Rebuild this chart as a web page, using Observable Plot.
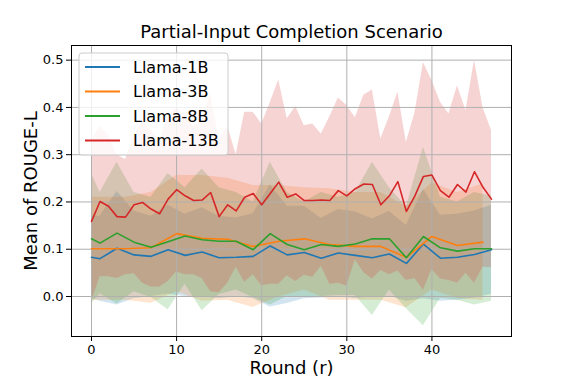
<!DOCTYPE html>
<html><head><meta charset="utf-8">
<script src="https://cdn.jsdelivr.net/npm/d3@7"></script>
<script src="https://cdn.jsdelivr.net/npm/@observablehq/plot@0.6"></script>
<style>body{margin:0;background:#fff}</style>
</head><body><div id="chart"></div>
<script>
const chartTitle = "Partial-Input Completion Scenario";
const xLabel = "Round (r)";
const yLabel = "Mean of ROUGE-L";
const seriesNames = ["Llama-1B", "Llama-3B", "Llama-8B", "Llama-13B"];
const seriesColors = ["#1f77b4", "#ff7f0e", "#2ca02c", "#d62728"];
const xTicks = [0, 10, 20, 30, 40];
const yTicks = [0, 0.1, 0.2, 0.3, 0.4, 0.5];

// Llama-1B
const rounds1B = [0,1,3,5,7,9,11,13,15,17,19,21,23,25,27,29,31,33,35,37,39,41,43,45,47];
const mean1B = [0.083,0.080,0.102,0.088,0.085,0.099,0.087,0.094,0.082,0.083,0.085,0.107,0.088,0.093,0.081,0.092,0.087,0.082,0.090,0.070,0.111,0.081,0.083,0.089,0.099];
const lo1B = [-0.005,-0.010,-0.018,-0.005,0.000,0.005,0.000,0.000,-0.005,0.000,-0.005,-0.022,-0.015,-0.005,-0.003,0.000,-0.005,0.000,0.000,-0.010,-0.005,-0.010,-0.008,-0.003,0.005];
const hi1B = [0.171,0.170,0.222,0.181,0.170,0.193,0.174,0.188,0.169,0.166,0.175,0.236,0.191,0.191,0.165,0.184,0.179,0.164,0.180,0.150,0.227,0.172,0.174,0.181,0.193];

// Llama-3B
const rounds3B = [0,1,4,7,10,13,16,19,22,25,28,31,34,37,40,43,46];
const mean3B = [0.101,0.101,0.101,0.103,0.133,0.123,0.121,0.106,0.117,0.122,0.110,0.106,0.106,0.083,0.127,0.108,0.115];
const lo3B = [-0.008,-0.008,-0.008,-0.014,0.010,-0.010,-0.008,-0.023,-0.001,0.014,-0.008,-0.008,-0.008,-0.024,0.014,-0.004,-0.008];
const hi3B = [0.210,0.210,0.210,0.220,0.256,0.256,0.250,0.235,0.235,0.230,0.228,0.220,0.220,0.190,0.240,0.220,0.238];

// Llama-8B
const rounds8B = [0,1,3,5,7,9,11,13,15,17,19,21,23,25,27,29,31,33,35,37,39,41,43,45,47];
const mean8B = [0.122,0.113,0.134,0.115,0.104,0.116,0.128,0.120,0.117,0.117,0.099,0.133,0.110,0.099,0.110,0.106,0.111,0.122,0.122,0.082,0.127,0.103,0.096,0.101,0.101];
const lo8B = [-0.016,0.006,-0.016,0.010,-0.002,-0.028,0.026,-0.030,0.004,0.014,-0.002,-0.018,0.000,-0.002,0.000,0.002,0.002,-0.040,0.014,-0.026,-0.062,-0.004,-0.008,-0.018,-0.010];
const hi8B = [0.260,0.220,0.284,0.220,0.210,0.260,0.230,0.270,0.230,0.220,0.200,0.284,0.220,0.200,0.220,0.210,0.220,0.284,0.230,0.190,0.316,0.210,0.200,0.220,0.212];

// Llama-13B
const rounds13B = [0,1,2,3,4,5,6,7,8,9,10,11,12,13,14,15,16,17,18,19,20,21,22,23,24,25,26,27,28,29,30,31,32,33,34,35,36,37,38,39,40,41,42,43,44,45,46,47];
const mean13B = [0.159,0.201,0.191,0.169,0.168,0.194,0.199,0.185,0.175,0.206,0.226,0.213,0.203,0.204,0.220,0.169,0.194,0.181,0.210,0.218,0.194,0.218,0.242,0.210,0.217,0.203,0.203,0.204,0.203,0.224,0.213,0.228,0.238,0.237,0.194,0.213,0.243,0.180,0.213,0.254,0.257,0.224,0.210,0.237,0.221,0.264,0.231,0.206];
const lo13B = [-0.012,0.042,0.042,0.038,0.046,0.048,0.028,0.020,0.020,0.032,0.052,0.046,0.046,0.038,0.010,0.008,0.028,0.062,0.030,0.046,0.023,0.026,0.026,0.044,0.032,0.045,0.041,0.064,0.026,0.028,0.022,0.078,0.050,0.037,0.055,0.046,0.054,0.034,0.038,0.013,0.057,0.037,0.034,0.028,0.049,0.028,0.062,0.061];
const hi13B = [0.330,0.360,0.340,0.300,0.290,0.340,0.370,0.350,0.330,0.380,0.400,0.380,0.360,0.370,0.430,0.330,0.360,0.300,0.390,0.390,0.365,0.410,0.458,0.376,0.402,0.361,0.365,0.344,0.380,0.420,0.404,0.378,0.426,0.437,0.333,0.380,0.432,0.326,0.388,0.495,0.457,0.411,0.386,0.446,0.393,0.500,0.400,0.351];

const seriesData = [
  [rounds1B, mean1B, lo1B, hi1B],
  [rounds3B, mean3B, lo3B, hi3B],
  [rounds8B, mean8B, lo8B, hi8B],
  [rounds13B, mean13B, lo13B, hi13B]
].map(([r, m, lo, hi], i) => r.map((round, j) => ({series: seriesNames[i], round, mean: m[j], lo: lo[j], hi: hi[j]})));

const FONT = "DejaVu Sans";
const svg = Plot.plot({
  width: 568, height: 379,
  marginLeft: 71, marginRight: 57, marginTop: 45, marginBottom: 43,
  style: {fontFamily: FONT, fontSize: "13px", background: "white", color: "black", overflow: "visible"},
  x: {domain: [-2.35, 49.35]},
  y: {domain: [-0.0846, 0.531]},
  marks: [
    ...seriesData.map((rows, i) => Plot.areaY(rows, {x: "round", y1: "lo", y2: "hi", fill: seriesColors[i], fillOpacity: 0.2})),
    Plot.gridX(xTicks, {stroke: "#b0b0b0", strokeOpacity: 1, strokeWidth: 1}),
    Plot.gridY(yTicks, {stroke: "#b0b0b0", strokeOpacity: 1, strokeWidth: 1}),
    ...seriesData.map((rows, i) => Plot.lineY(rows, {x: "round", y: "mean", stroke: seriesColors[i], strokeWidth: 1.6})),
    Plot.frame({stroke: "black", strokeWidth: 1}),
    Plot.axisX(xTicks, {tickSize: 5, tickPadding: 3, label: null, fontSize: 13}),
    Plot.axisY(yTicks, {tickSize: 5, tickPadding: 3, label: null, fontSize: 13, tickFormat: d3.format(".1f")}),
    Plot.text([chartTitle], {frameAnchor: "top", dy: -13, fontSize: 18, textAnchor: "middle", lineAnchor: "middle"}),
    Plot.text([xLabel], {frameAnchor: "bottom", dy: 32, fontSize: 18, textAnchor: "middle", lineAnchor: "middle"}),
    Plot.text([yLabel], {frameAnchor: "left", dx: -40, rotate: -90, fontSize: 18, textAnchor: "middle", lineAnchor: "middle"})
  ]
});

// Legend (upper-left, inside the frame)
const g = d3.select(svg).append("g").attr("font-family", FONT).attr("font-size", 16).attr("text-anchor", "start");
g.append("rect").attr("x", 79).attr("y", 53).attr("width", 149).attr("height", 102)
  .attr("rx", 3).attr("fill", "white").attr("fill-opacity", 0.8).attr("stroke", "#cccccc").attr("stroke-width", 1);
seriesNames.forEach((name, i) => {
  const yy = 67 + i * 24.5;
  g.append("line").attr("x1", 85).attr("x2", 120).attr("y1", yy).attr("y2", yy)
    .attr("stroke", seriesColors[i]).attr("stroke-width", 2);
  g.append("text").attr("x", 133).attr("y", yy).attr("dy", "0.35em")
    .attr("text-anchor", "start").attr("fill", "black").text(name);
});

document.getElementById("chart").appendChild(svg);
</script>
</body></html>
